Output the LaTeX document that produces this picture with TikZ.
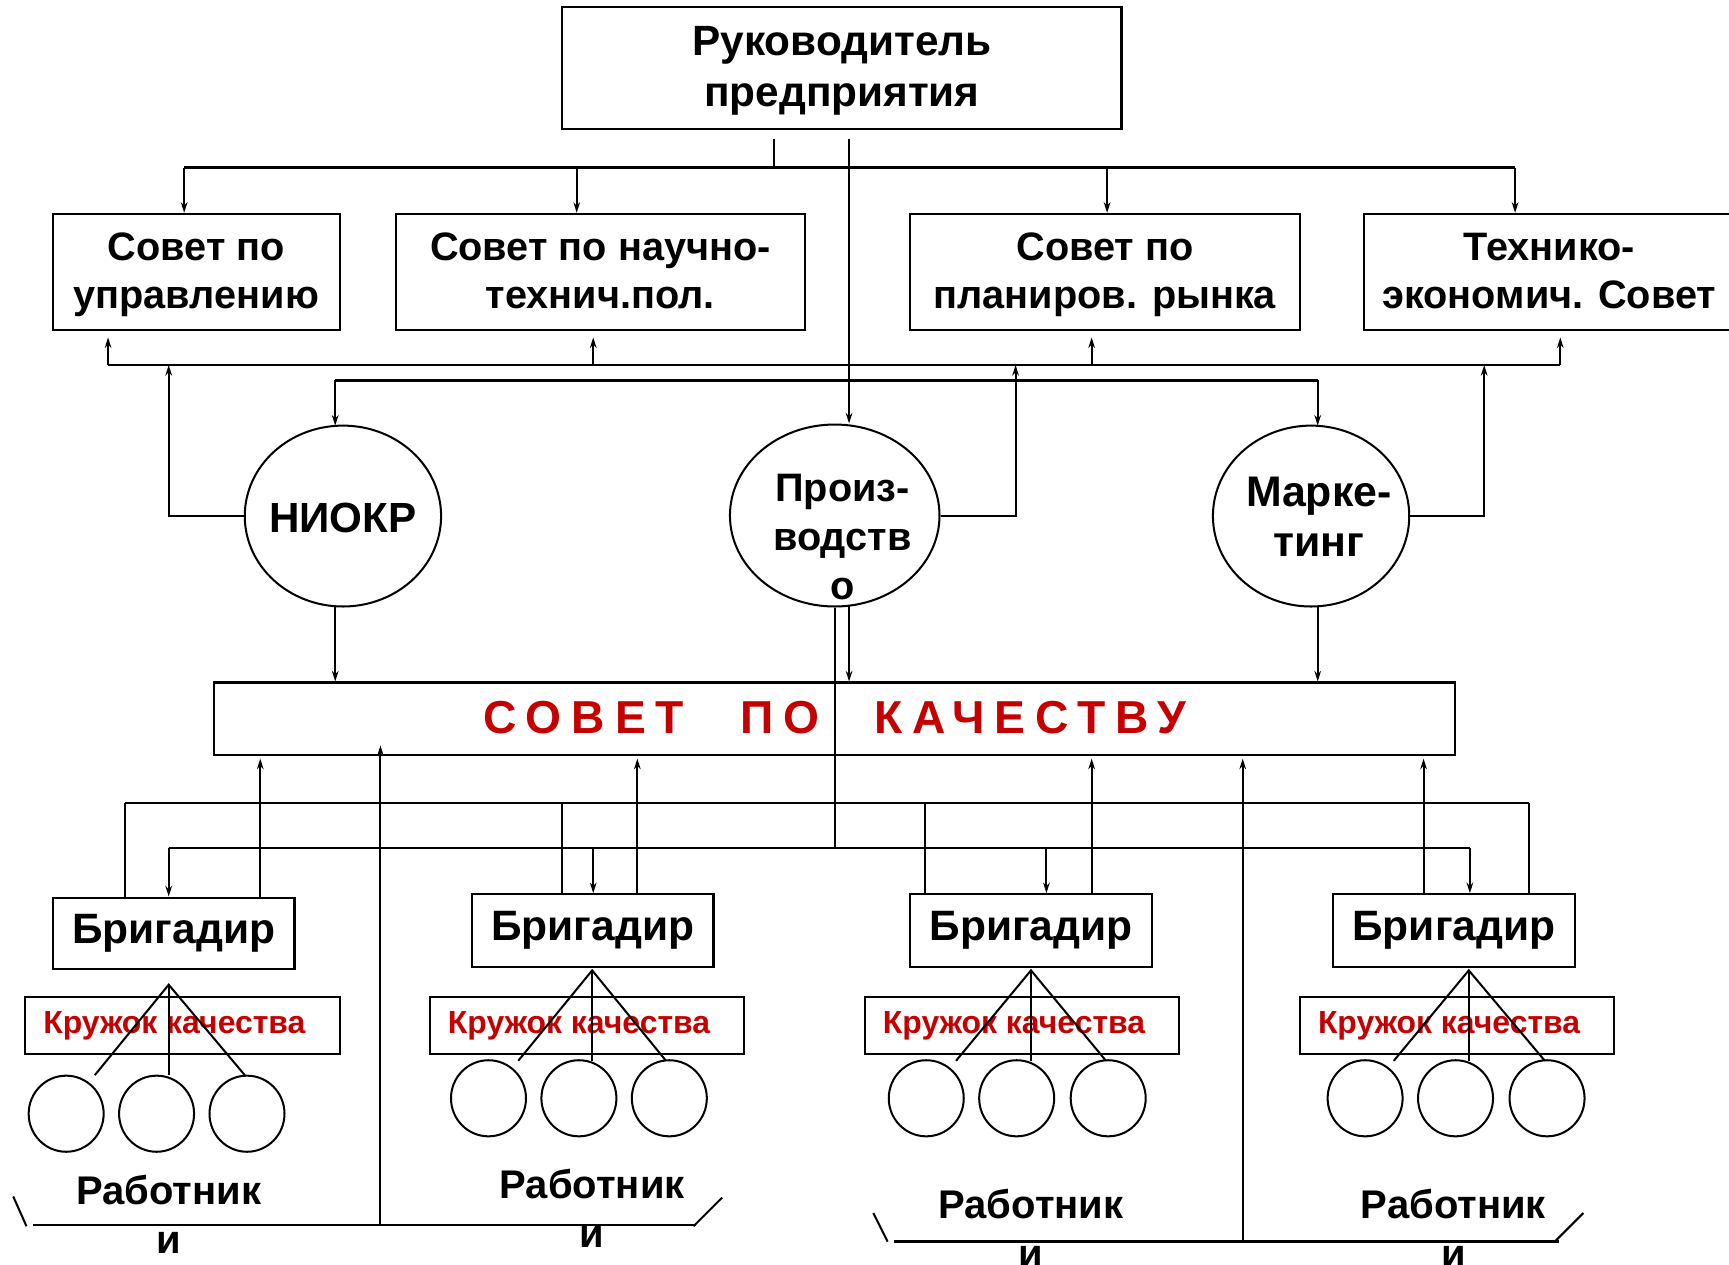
\documentclass[tikz,border=0pt]{standalone}
\usepackage{fontspec}
\setmainfont{Liberation Sans}
\usetikzlibrary{shapes.geometric,arrows.meta,calc}
\definecolor{qred}{RGB}{196,0,0}
\begin{document}
\begin{tikzpicture}[x=0.025cm,y=-0.025cm,
  box/.style={draw,line width=1.4pt,inner sep=0pt,align=center},
  ell/.style={draw,ellipse,line width=1.3pt,inner sep=0pt},
  big/.style={font=\fontsize{25.6}{31.3}\selectfont\bfseries},
  stxt/.style={font=\fontsize{25.6}{31.3}\selectfont\bfseries,align=center,inner sep=0pt},
  bigtop/.style={font=\fontsize{27.3}{32.7}\selectfont\bfseries,align=center},
  brig/.style={font=\fontsize{27.4}{31}\selectfont\bfseries},
  krug/.style={font=\fontsize{20.6}{24}\selectfont\bfseries,text=qred,inner sep=0pt,anchor=west},
  qtxt/.style={font=\fontsize{29.8}{34}\selectfont\bfseries\addfontfeature{LetterSpace=21.5},text=qred,inner sep=0pt,anchor=base west},
  wtxt/.style={font=\fontsize{25.8}{31.3}\selectfont\bfseries,align=center,inner sep=0pt},
  ln/.style={line width=1.3pt},
  bus/.style={line width=1.5pt},
  arr/.style={line width=1.3pt,-{Stealth[length=2.4mm,width=1.5mm]}},
]
\useasboundingbox (0,0) rectangle (1568,1147);

% ---- nodes ----
\node[box,minimum width={507*0.25mm},minimum height={111*0.25mm}] (top) at (763.5,61.5) {};
\node[bigtop] (topT) at (763.5,64) {Руководитель\\предприятия};

\node[box,minimum width={260*0.25mm},minimum height={105*0.25mm}] (s1) at (178,246.5) {};
\node[box,minimum width={371*0.25mm},minimum height={105*0.25mm}] (s2) at (544.5,246.5) {};
\node[box,minimum width={354*0.25mm},minimum height={105*0.25mm}] (s3) at (1002,246.5) {};
\node[box,minimum width={336*0.25mm},minimum height={105*0.25mm}] (s4) at (1405,246.5) {};
\node[stxt] (s1T) at (178,249) {\strut Совет по\\управлению\strut};
\node[stxt] (s2T) at (544.5,249) {\strut Совет по научно-\\технич.пол.\strut};
\node[stxt] (s3T) at (1002,249) {\strut Совет по\\планиров. рынка\strut};
\node[stxt] (s4T) at (1405,249) {\strut Технико-\\экономич. Совет\strut};

\node[ell,minimum width={178*0.25mm},minimum height={164*0.25mm}] (niokr) at (311,468) {};
\node[font=\fontsize{27.2}{32}\selectfont\bfseries] (niokrT) at (311,470) {НИОКР};
\node[ell,minimum width={190*0.25mm},minimum height={165*0.25mm}] (proizv) at (757,467.5) {};
\node[big,align=center] (proizvT) at (764,487) {Произ-\\водств\\о};
\node[ell,minimum width={178*0.25mm},minimum height={164*0.25mm}] (market) at (1189,468) {};
\node[font=\fontsize{27.6}{32}\selectfont\bfseries,align=center] (marketT) at (1196,468.5) {Марке-\\тинг};

\node[box,minimum width={1125*0.25mm},minimum height={66*0.25mm}] (q) at (756.5,652) {};
\node[qtxt] (q1) at (438.5,665) {СОВЕТ};
\node[qtxt] (q2) at (671,665) {ПО};
\node[qtxt] (q3) at (792.5,665) {КАЧЕСТВУ};

\node[box,brig,minimum width={219*0.25mm},minimum height={65*0.25mm}] (b1) at (157.5,846.5) {Бригадир};
\node[box,brig,minimum width={219*0.25mm},minimum height={66*0.25mm}] (b2) at (537.5,844) {Бригадир};
\node[box,brig,minimum width={220*0.25mm},minimum height={66*0.25mm}] (b3) at (935,844) {Бригадир};
\node[box,brig,minimum width={219*0.25mm},minimum height={66*0.25mm}] (b4) at (1318.5,844) {Бригадир};

\foreach \i/\x in {1/165.5,2/532.5,3/927,4/1321.5}{
  \node[box,minimum width={285*0.25mm},minimum height={52*0.25mm}] (k\i) at (\x,930) {};
  \node[krug] (kt\i) at ($(k\i.west)+(17,0)$) {Кружок качества};
}

% worker circles
\foreach \g/\y/\a/\b/\c in {1/1010/60/142/224,2/996/443/525/607,3/996/840/922/1005,4/996/1238/1320/1403}{
  \node[ell,minimum width={68*0.25mm},minimum height={69*0.25mm}] (c\g a) at (\a,\y) {};
  \node[ell,minimum width={68*0.25mm},minimum height={69*0.25mm}] (c\g b) at (\b,\y) {};
  \node[ell,minimum width={68*0.25mm},minimum height={69*0.25mm}] (c\g c) at (\c,\y) {};
}

\node[wtxt] (w1) at (153,1101) {Работник\\и};
\node[wtxt] (w2) at (537,1096) {Работник\\и};
\node[wtxt] (w3) at (935,1114) {Работник\\и};
\node[wtxt] (w4) at (1318,1114) {Работник\\и};

% ---- connectors: top ----
\coordinate (t1) at (702,126);
\coordinate (t2) at (770,126);
\coordinate (j1) at (702,152);
\draw[ln] (t1) -- (j1);
\draw[bus] (167,152) -- (1374,152);
\draw[arr] (167,152) -- (s1.north -| 167,0);
\draw[arr] (523,152) -- (s2.north -| 523,0);
\draw[arr] (1004,152) -- (s3.north -| 1004,0);
\draw[arr] (1374,152) -- (s4.north -| 1374,0);
\draw[arr] (t2) -- (proizv.north -| 770,0);

% up bus
\draw[bus] (98,331) -- (1415,331);
\draw[arr,shorten >=1.5mm] (98,331) -- (s1.south -| 98,0);
\draw[arr,shorten >=1.5mm] (538,331) -- (s2.south -| 538,0);
\draw[arr,shorten >=1.5mm] (990,331) -- (s3.south -| 990,0);
\draw[arr,shorten >=1.5mm] (1415,331) -- (s4.south -| 1415,0);
\draw[arr] (niokr.west) -| (153,331);
\draw[arr] (proizv.east) -| (921,331);
\draw[arr] (market.east) -| (1346,331);

% down bus to circles
\draw[bus] (304,345) -- (1195,345);
\draw[arr] (304,345) -- (304,386);
\draw[arr] (1195,345) -- (1195,386);

% circles to quality council
\draw[arr] (304,550) -- (q.north -| 304,0);
\draw[arr] (770,549) -- (q.north -| 770,0);
\draw[arr] (1195,550) -- (q.north -| 1195,0);
\coordinate (j2) at (757,769);
\draw[ln] (proizv.south) -- (j2);

% up arrows into quality council
\draw[arr,shorten >=0.5mm] (b1.north -| 236,0) -- (q.south -| 236,0);
\draw[arr,shorten >=0.5mm] (b2.north -| 578,0) -- (q.south -| 578,0);
\draw[arr,shorten >=0.5mm] (b3.north -| 990,0) -- (q.south -| 990,0);
\draw[arr,shorten >=0.5mm] (b4.north -| 1291,0) -- (q.south -| 1291,0);

% bus y=728
\draw[bus] (113,728) -- (1387,728);
\draw[ln] (113,728) -- (b1.north -| 113,0);
\draw[ln] (510,728) -- (b2.north -| 510,0);
\draw[ln] (839,728) -- (b3.north -| 839,0);
\draw[ln] (1387,728) -- (b4.north -| 1387,0);

% bus y=769
\draw[bus] (153,769) -- (1333,769);
\draw[arr] (153,769) -- (b1.north -| 153,0);
\draw[arr] (538,769) -- (b2.north -| 538,0);
\draw[arr] (949,769) -- (b3.north -| 949,0);
\draw[arr] (1333,769) -- (b4.north -| 1333,0);

% brigadier to workers
\coordinate (a1) at (153,893);
\coordinate (a2) at (537,880);
\coordinate (a3) at (935,880);
\coordinate (a4) at (1332,880);
\draw[ln] (86,975) -- (a1) -- (222,975); \draw[ln] (a1) -- (153,975);
\draw[ln] (470,962) -- (a2) -- (604,962); \draw[ln] (a2) -- (537,962);
\draw[ln] (867,962) -- (a3) -- (1003,962); \draw[ln] (a3) -- (935,962);
\draw[ln] (1264,962) -- (a4) -- (1401,962); \draw[ln] (a4) -- (1332,962);

% brackets
\draw[ln] (12,1085) -- (24,1112);
\draw[bus] (30,1111) -- (631,1111);
\draw[ln] (629,1112) -- (655,1086);
\draw[ln] (792,1100) -- (805,1126);
\draw[bus] (811,1126) -- (1414,1126);
\draw[ln] (1410,1126) -- (1436,1100);
\draw[arr] (345,1111) -- (345,676);
\draw[arr] (1127,1126) -- (1127,688);
\end{tikzpicture}
\end{document}
